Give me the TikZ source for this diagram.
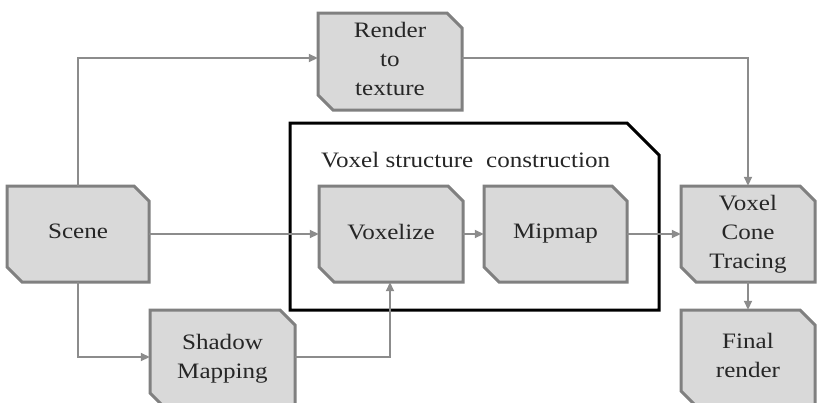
\documentclass[tikz,border=0pt]{standalone}
\usepackage{fontspec}
\setmainfont[FakeStretch=1.14]{Liberation Serif}
\usetikzlibrary{arrows.meta}
\definecolor{boxfill}{HTML}{D9D9D9}
\definecolor{boxline}{HTML}{808080}
\definecolor{conn}{HTML}{8C8C8C}
\tikzset{
  boxshape/.style={fill=boxfill, draw=boxline, line width=3pt, line join=miter},
  boxtext/.style={align=center, font=\fontsize{22}{29}\selectfont, inner sep=0pt, text=black!85, text depth=5pt},
  conn/.style={draw=conn, line width=1.8pt, -{Triangle[length=9pt,width=8pt]}},
  frame/.style={draw=black, line width=3pt}
}
% name, x1, y1, x2, y2, text, cut
\newcommand\pbox[7]{%
  \path[boxshape] (#2,#3) -- ({#4-#7},#3) -- (#4,{#3+#7}) -- (#4,#5) -- ({#2+#7},#5) -- (#2,{#5-#7}) -- cycle;
  \node[boxtext, minimum width={(#4-#2)*1pt}, minimum height={(#5-#3)*1pt}] (#1) at ({(#2+#4)/2},{(#3+#5)/2}) {#6};
}
\begin{document}
\begin{tikzpicture}[x=1pt,y=-1pt]
\useasboundingbox (0,0) rectangle (817,402);
% frame
\path[frame] (290,123) -- (627,123) -- (659,155) -- (659,310) -- (290,310) -- cycle;
\node[anchor=west, font=\fontsize{22}{27}\selectfont, inner sep=0pt, text=black!85] (lbl) at (321,160) {Voxel structure\hspace{0.3em} construction};
% boxes
\pbox{scene}{7}{186}{149}{282}{Scene}{15}
\pbox{rtt}{318}{13}{462}{110}{Render\\to\\texture}{15}
\pbox{vox}{319}{186}{463}{282}{Voxelize}{15}
\pbox{mip}{484}{186}{627}{282}{Mipmap}{15}
\pbox{vct}{681}{186}{815}{282}{Voxel\\Cone\\Tracing}{15}
\pbox{fin}{681}{310}{815}{406}{Final\\render}{15}
\pbox{shm}{150}{310}{295}{408}{Shadow\\Mapping}{15}
% connectors
\coordinate (c1) at (78,58);
\coordinate (c2) at (78,357);
\coordinate (c3) at (390,357);
\draw[conn] (scene.north -| c1) -- (c1) -- (rtt.west |- c1);
\draw[conn] (rtt.east |- c1) -| (vct.north);
\draw[conn] (scene.east) -- (vox.west);
\draw[conn] (vox.east) -- (mip.west);
\draw[conn] (mip.east) -- (vct.west);
\draw[conn] (scene.south -| c2) -- (c2) -- (shm.west |- c2);
\draw[conn] (shm.east |- c3) -- (c3) -- (vox.south -| c3);
\draw[conn] (vct.south) -- (fin.north);
\end{tikzpicture}
\end{document}
